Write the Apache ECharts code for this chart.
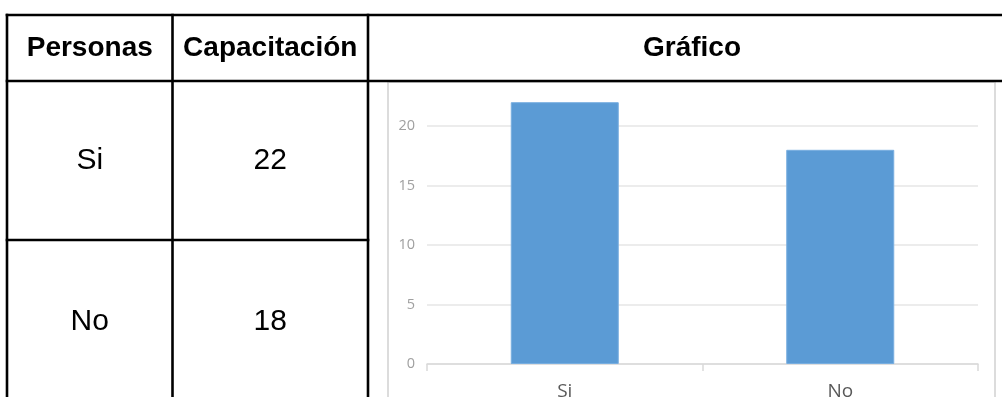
<!DOCTYPE html>
<html>
<head>
<meta charset="utf-8">
<script src="https://cdn.jsdelivr.net/npm/echarts@6/dist/echarts.min.js"></script>
<style>
  html, body { margin: 0; padding: 0; background: #ffffff; }
  #main { width: 1002px; height: 397px; }
</style>
</head>
<body>
<div id="main"></div>
<script>
// Table headers and rows
const headers = ['Personas', 'Capacitación', 'Gráfico'];
const categories = ['Si', 'No'];
const values = [22, 18];
const yTicks = [0, 5, 10, 15, 20];

const chart = echarts.init(document.getElementById('main'), null, { renderer: 'canvas' });

// Table geometry
const colX = [7, 172.5, 368, 1016];
const rowY = [15, 81, 240, 404];
const lineColor = '#000000';
const lineW = 2.6;

const graphics = [];

// chart image frame
graphics.push({
  type: 'rect', z: 1, silent: true,
  shape: { x: 388, y: 82, width: 607, height: 330 },
  style: { fill: 'none', stroke: '#dcdcdc', lineWidth: 2 }
});

function hLine(x1, x2, y) {
  graphics.push({ type: 'line', z: 100, silent: true,
    shape: { x1: x1, y1: y, x2: x2, y2: y },
    style: { stroke: lineColor, lineWidth: lineW } });
}
function vLine(x, y1, y2) {
  graphics.push({ type: 'line', z: 100, silent: true,
    shape: { x1: x, y1: y1, x2: x, y2: y2 },
    style: { stroke: lineColor, lineWidth: lineW } });
}
function cellText(txt, cx, cy, bold, size) {
  graphics.push({ type: 'text', z: 100, silent: true,
    x: cx, y: cy,
    style: { text: txt, fill: '#000000', align: 'center', verticalAlign: 'middle',
      font: (bold ? 'bold ' : '') + size + 'px "Liberation Sans", Arial, sans-serif' } });
}

hLine(colX[0] - 1.3, 1002, rowY[0]);
hLine(colX[0] - 1.3, 1002, rowY[1]);
hLine(colX[0] - 1.3, colX[2] + 1.3, rowY[2]);
vLine(colX[0], rowY[0] - 1.3, 397);
vLine(colX[1], rowY[0] - 1.3, 397);
vLine(colX[2], rowY[0] - 1.3, 397);

// header cells
for (let i = 0; i < headers.length; i++) {
  cellText(headers[i], (colX[i] + colX[i + 1]) / 2, 48, true, 28);
}
// body cells
for (let r = 0; r < categories.length; r++) {
  const cy = (rowY[r + 1] + rowY[r + 2]) / 2;
  cellText(categories[r], (colX[0] + colX[1]) / 2, cy, false, 30);
  cellText(String(values[r]), (colX[1] + colX[2]) / 2, cy, false, 30);
}

const option = {
  animation: false,
  grid: { left: 427, right: 24, top: 66.5, bottom: 33, containLabel: false, outerBoundsMode: 'none' },
  xAxis: {
    type: 'category',
    data: categories,
    axisLine: { show: true, lineStyle: { color: '#d9d9d9', width: 1.5 } },
    axisTick: { show: true, alignWithLabel: false, length: 7, lineStyle: { color: '#d9d9d9', width: 1.5 } },
    axisLabel: { color: '#595959', fontSize: 19, margin: 18, fontFamily: '"Open Sans", sans-serif' }
  },
  yAxis: {
    type: 'value',
    min: 0, max: 25, interval: 5,
    axisLine: { show: false },
    axisTick: { show: false },
    axisLabel: {
      color: '#a0a0a0', fontSize: 14.5, margin: 12, fontFamily: '"Open Sans", sans-serif',
      formatter: function (v) { return yTicks.indexOf(v) >= 0 ? String(v) : ''; }
    },
    splitLine: { show: true, showMaxLine: false, lineStyle: { color: '#e6e6e6', width: 1.5 } }
  },
  series: [{
    type: 'bar',
    data: values,
    barWidth: 108,
    itemStyle: { color: '#5b9bd5', borderColor: '#78aee0', borderWidth: 1 },
    z: 2
  }],
  graphic: { elements: graphics }
};

chart.setOption(option);
</script>
</body>
</html>
